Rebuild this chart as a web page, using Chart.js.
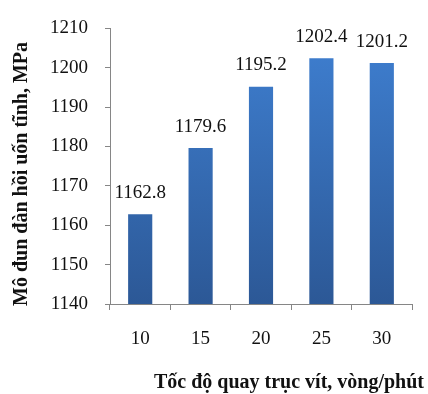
<!DOCTYPE html>
<html>
<head>
<meta charset="utf-8">
<script src="https://cdn.jsdelivr.net/npm/chart.js@4/dist/chart.umd.min.js"></script>
<style>
  html, body { margin: 0; padding: 0; background: #fff; }
  #wrap { width: 428px; height: 394px; }
</style>
</head>
<body>
<div id="wrap"><canvas id="chart"></canvas></div>
<script>
// Tốc độ quay trục vít (vòng/phút) và mô đun đàn hồi uốn tĩnh (MPa)
const categories = ['10', '15', '20', '25', '30'];
const values = [1162.8, 1179.6, 1195.2, 1202.4, 1201.2];
const valueLabels = ['1162.8', '1179.6', '1195.2', '1202.4', '1201.2'];
const yTitle = 'Mô đun đàn hồi uốn tĩnh, MPa';
const xTitle = 'Tốc độ quay trục vít, vòng/phút';

const serif = '"Liberation Serif", "Times New Roman", serif';
const axisColor = '#868686';

function barGradient(context) {
    const chart = context.chart;
    const area = chart.chartArea;
    if (!area) return '#3a72c0';
    const g = chart.ctx.createLinearGradient(0, area.top, 0, area.bottom);
    g.addColorStop(0, '#3f80d2');
    g.addColorStop(1, '#2c5896');
    return g;
}

// nhãn giá trị phía trên cột + tiêu đề trục
const labelsPlugin = {
    id: 'labelsPlugin',
    afterDatasetsDraw(chart) {
        const ctx = chart.ctx;
        const meta = chart.getDatasetMeta(0);
        ctx.save();
        ctx.font = '19px ' + serif;
        ctx.fillStyle = '#111';
        ctx.textAlign = 'center';
        ctx.textBaseline = 'bottom';
        meta.data.forEach((bar, i) => {
            ctx.fillText(valueLabels[i], bar.x, bar.y - 12);
        });

        ctx.font = 'bold 20px ' + serif;
        ctx.textBaseline = 'middle';
        ctx.fillText(xTitle, 289, 383);

        ctx.translate(22, 174);
        ctx.rotate(-Math.PI / 2);
        ctx.fillText(yTitle, 0, 0);
        ctx.restore();
    }
};

new Chart(document.getElementById('chart'), {
    type: 'bar',
    data: {
        labels: categories,
        datasets: [{
            data: values,
            backgroundColor: barGradient,
            borderWidth: 0,
            barPercentage: 0.8,
            categoryPercentage: 0.5
        }]
    },
    options: {
        responsive: true,
        maintainAspectRatio: false,
        animation: false,
        layout: { padding: { left: 0, right: 16, top: 22, bottom: 0 } },
        plugins: {
            legend: { display: false },
            tooltip: { enabled: false }
        },
        scales: {
            x: {
                offset: true,
                grid: {
                    offset: true,
                    drawOnChartArea: false,
                    color: axisColor,
                    tickLength: 6
                },
                border: { color: axisColor },
                ticks: { color: '#111', font: { family: serif, size: 19 }, padding: 18 },
                afterFit(scale) { scale.height = 90; }
            },
            y: {
                min: 1140,
                max: 1210,
                grid: {
                    drawOnChartArea: false,
                    color: axisColor,
                    tickLength: 5
                },
                border: { color: axisColor },
                ticks: {
                    stepSize: 10,
                    color: '#111',
                    font: { family: serif, size: 19 },
                    padding: 17,
                    callback: (v) => String(v)
                },
                afterFit(scale) { scale.width = 110; }
            }
        }
    },
    plugins: [labelsPlugin]
});
</script>
</body>
</html>
